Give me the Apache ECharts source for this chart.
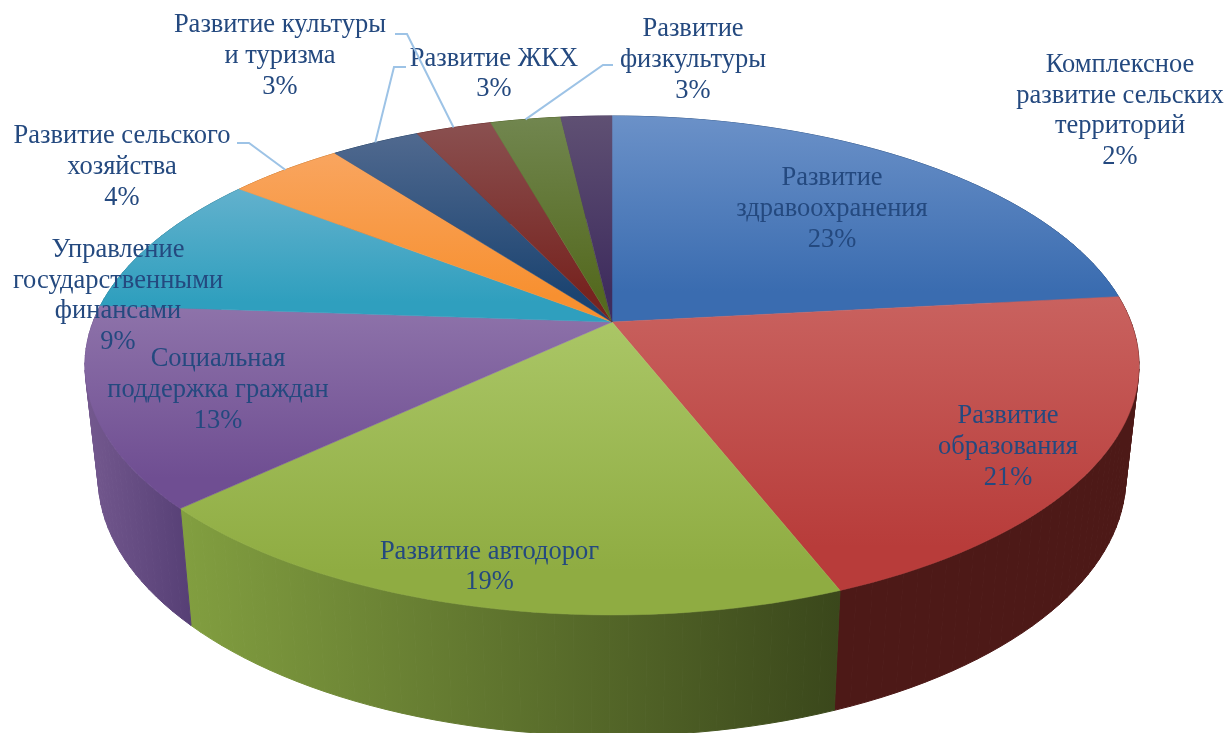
<!DOCTYPE html>
<html>
<head>
<meta charset="utf-8">
<title>Расходы по программам</title>
<style>
    html, body { margin: 0; padding: 0; background: #fff; }
    #pie3d { width: 1225px; height: 733px; }
</style>
<script src="https://cdn.jsdelivr.net/npm/echarts@6/dist/echarts.min.js"></script>
</head>
<body>
<div id="pie3d"></div>
<script>
var categories = [
    'Развитие\nздравоохранения',
    'Развитие\nобразования',
    'Развитие автодорог',
    'Социальная\nподдержка граждан',
    'Управление\nгосударственными\nфинансами',
    'Развитие сельского\nхозяйства',
    'Развитие ЖКХ',
    'Развитие культуры\nи туризма',
    'Развитие\nфизкультуры',
    'Комплексное\nразвитие сельских\nтерриторий'
];
var shares = [23.3, 20.7, 19.1, 13.0, 9.3, 4.2, 3.25, 2.75, 2.55, 1.85];

// gradient of the top face, light (far) to base (near)
var topLight = ['#6b91c8', '#c9625f', '#aac666', '#8e73aa', '#62b1cd', '#f9a55f', '#50698f', '#8a5050', '#71864f', '#5f5073'];
var topBase = ['#3a6cb0', '#b83c3a', '#8fac42', '#6f4e92', '#2f9fbe', '#f79030', '#1c4471', '#772420', '#556a20', '#3f2d5e'];
// gradient of the side wall, left to right
var wallLeft = ['#2a4d7c', '#4d1917', '#829f40', '#74598f', '#2f7f96', '#c07025', '#1c3a5c', '#5a1c19', '#445518', '#33254c'];
var wallRight = ['#2a4d7c', '#4d1917', '#3a471b', '#563f75', '#2f7f96', '#c07025', '#1c3a5c', '#5a1c19', '#445518', '#33254c'];

// label centres, leader lines: [x, y] of the elbow start and the elbow
var labelPos = [[832, 209], [1008, 447], [489.5, 567], [218, 390], [118, 296], [122, 167], [494, 74], [280, 56], [693, 60], [1120, 111]];
var leaders = {
    5: [[237, 143], [249, 143]],
    6: [[406, 67], [394, 67]],
    7: [[395, 34], [407, 34]],
    8: [[613, 65], [603, 65]]
};

// perspective of the disc
var cx = 612, cy = 322, rx = 519, ry = 241.9, tilt = 0.1743;
var wallScaleX = 0.975, wallScaleY = 1.037, wallY = 432;
var labelColor = '#24497f', leaderColor = '#9dc3e6';

var total = 0;
var starts = [];
for (var i = 0, l = shares.length; i < l; i++) {
    starts[i] = total;
    total += shares[i];
}

function angleOf(share) {
    return share / total * Math.PI * 2;
}

function topPoint(a) {
    var x = Math.sin(a), y = -Math.cos(a);
    var w = 1 - tilt * y;
    return [cx + rx * x / w, cy + ry * y / w];
}

function wallPoint(a) {
    var p = topPoint(a);
    return [cx + wallScaleX * (p[0] - cx), wallY + wallScaleY * (p[1] - cy)];
}

function arcOf(i, pointFn) {
    var a0 = angleOf(starts[i]), a1 = angleOf(starts[i] + shares[i]);
    var n = Math.max(2, Math.ceil((a1 - a0) / 0.03));
    var pts = [];
    for (var k = 0; k <= n; k++) {
        pts.push(pointFn(a0 + (a1 - a0) * k / n));
    }
    return pts;
}

function renderWall(params) {
    var i = params.dataIndex;
    var tops = arcOf(i, topPoint), bottoms = arcOf(i, wallPoint);
    var xs = tops.concat(bottoms).map(function (p) { return p[0]; });
    var fill = new echarts.graphic.LinearGradient(Math.min.apply(null, xs), 0, Math.max.apply(null, xs), 0, [
        {offset: 0, color: wallLeft[i]},
        {offset: 1, color: wallRight[i]}
    ], true);
    var children = [];
    for (var k = 0; k < tops.length - 1; k++) {
        children.push({
            type: 'polygon',
            shape: {points: [tops[k], tops[k + 1], bottoms[k + 1], bottoms[k]]},
            style: {fill: fill, stroke: fill, lineWidth: 1}
        });
    }
    return {type: 'group', children: children};
}

function renderTop(params) {
    var i = params.dataIndex;
    var pts = [[cx, cy]].concat(arcOf(i, topPoint));
    var ys = pts.map(function (p) { return p[1]; });
    var fill = new echarts.graphic.LinearGradient(0, Math.min.apply(null, ys), 0, Math.max.apply(null, ys), [
        {offset: 0, color: topLight[i]},
        {offset: 0.85, color: topBase[i]},
        {offset: 1, color: topBase[i]}
    ], true);
    return {
        type: 'polygon',
        shape: {points: pts},
        style: {fill: fill, stroke: fill, lineWidth: 0.5}
    };
}

function renderLabel(params) {
    var i = params.dataIndex;
    var children = [];
    if (leaders[i]) {
        var rim = topPoint(angleOf(starts[i] + shares[i] / 2));
        children.push({
            type: 'polyline',
            shape: {points: [leaders[i][0], leaders[i][1], rim]},
            style: {fill: null, stroke: leaderColor, lineWidth: 2}
        });
    }
    children.push({
        type: 'text',
        style: {
            x: labelPos[i][0],
            y: labelPos[i][1],
            text: categories[i] + '\n' + Math.round(shares[i] / total * 100) + '%',
            align: 'center',
            verticalAlign: 'middle',
            font: '26.5px "Liberation Serif"',
            lineHeight: 30.6,
            fill: labelColor
        }
    });
    return {type: 'group', children: children};
}

var pie = echarts.init(document.getElementById('pie3d'));

var option = {
    animation: false,
    backgroundColor: '#fff',
    series: [
        {type: 'custom', coordinateSystem: 'none', silent: true, z: 1, renderItem: renderWall, data: shares},
        {type: 'custom', coordinateSystem: 'none', silent: true, z: 2, renderItem: renderTop, data: shares},
        {type: 'custom', coordinateSystem: 'none', silent: true, z: 3, renderItem: renderLabel, data: shares}
    ]
};
pie.setOption(option);
</script>
</body>
</html>
